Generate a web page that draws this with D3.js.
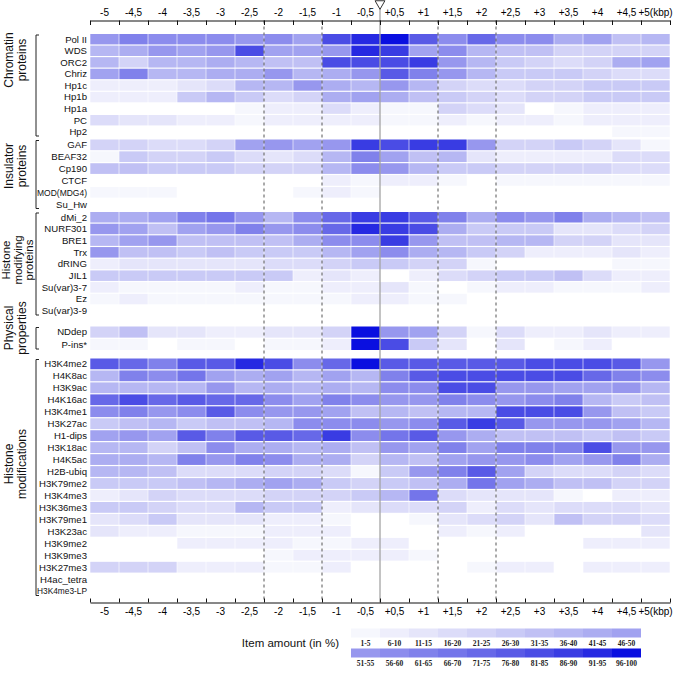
<!DOCTYPE html>
<html>
<head>
<meta charset="utf-8">
<script src="https://cdn.jsdelivr.net/npm/d3@7"></script>
<style>
  body { margin: 0; background: #fff; }
  svg { display: block; font-family: "Liberation Sans", Arial, sans-serif; }
</style>
</head>
<body>
<svg id="heatmap" width="685" height="673"></svg>
<script>
// Column labels (kbp bins around the site)
var colLabels = ["-5", "-4,5", "-4", "-3,5", "-3", "-2,5", "-2", "-1,5", "-1", "-0,5",
  "+0,5", "+1", "+1,5", "+2", "+2,5", "+3", "+3,5", "+4", "+4,5", "+5(kbp)"];

// Row names per group
var chromatinRows = ["Pol II", "WDS", "ORC2", "Chriz", "Hp1c", "Hp1b", "Hp1a", "PC", "Hp2"];
var insulatorRows = ["GAF", "BEAF32", "Cp190", "CTCF", "MOD(MDG4)", "Su_Hw"];
var modifyingRows = ["dMi_2", "NURF301", "BRE1", "Trx", "dRING", "JIL1", "Su(var)3-7", "Ez", "Su(var)3-9"];
var physicalRows = ["NDdep", "P-ins*"];
var modificationRows = ["H3K4me2", "H4K8ac", "H3K9ac", "H4K16ac", "H3K4me1", "H3K27ac", "H1-dips",
  "H3K18ac", "H4K5ac", "H2B-ubiq", "H3K79me2", "H3K4me3", "H3K36me3", "H3K79me1", "H3K23ac",
  "H3K9me2", "H3K9me3", "H3K27me3", "H4ac_tetra", "H3K4me3-LP"];

// Item amount (%) per cell
var chromatinValues = [
  [55, 65, 60, 60, 60, 55, 60, 50, 85, 95, 100, 80, 60, 75, 60, 60, 45, 50, 35, 40],
  [40, 45, 55, 50, 55, 85, 50, 50, 55, 95, 90, 50, 60, 40, 35, 35, 25, 25, 25, 25],
  [40, 25, 40, 40, 45, 40, 35, 35, 85, 85, 85, 90, 55, 40, 30, 25, 20, 25, 45, 50],
  [50, 65, 40, 40, 45, 45, 55, 40, 45, 55, 80, 65, 55, 40, 30, 30, 30, 25, 20, 20],
  [10, 10, 10, 15, 20, 40, 40, 55, 45, 40, 55, 40, 25, 20, 20, 25, 25, 30, 30, 30],
  [10, 10, 10, 30, 40, 30, 20, 25, 45, 50, 45, 35, 30, 25, 20, 25, 25, 30, 30, 30],
  [0, 0, 0, 0, 0, 5, 10, 10, 20, 10, 5, 5, 25, 20, 15, 0, 5, 10, 10, 10],
  [20, 15, 15, 10, 10, 5, 10, 10, 10, 10, 5, 5, 10, 5, 10, 10, 5, 10, 10, 10],
  [0, 0, 0, 0, 0, 0, 0, 0, 0, 0, 0, 0, 0, 0, 0, 0, 0, 0, 5, 5]
];
var insulatorValues = [
  [25, 25, 20, 20, 25, 50, 55, 50, 55, 90, 85, 90, 90, 55, 25, 25, 30, 25, 15, 5],
  [5, 30, 25, 25, 30, 20, 15, 20, 40, 65, 50, 35, 40, 15, 10, 10, 10, 10, 20, 20],
  [35, 35, 30, 30, 30, 25, 25, 25, 40, 60, 55, 40, 30, 30, 25, 25, 25, 25, 20, 20],
  [0, 0, 0, 0, 0, 0, 0, 0, 10, 5, 10, 10, 5, 0, 5, 5, 5, 5, 5, 5],
  [5, 5, 5, 0, 0, 0, 0, 5, 10, 5, 0, 0, 0, 0, 0, 0, 0, 0, 0, 0],
  [0, 0, 0, 0, 0, 0, 0, 0, 0, 0, 0, 0, 0, 0, 0, 0, 0, 0, 0, 0]
];
var modifyingValues = [
  [45, 45, 50, 65, 70, 55, 40, 60, 75, 90, 90, 80, 65, 45, 60, 55, 65, 45, 40, 35],
  [55, 50, 35, 50, 55, 65, 55, 60, 75, 95, 90, 85, 45, 30, 30, 30, 15, 15, 20, 25],
  [40, 50, 55, 35, 35, 35, 35, 45, 60, 60, 90, 55, 35, 35, 40, 40, 25, 25, 15, 15],
  [55, 35, 35, 30, 35, 30, 30, 30, 40, 50, 60, 45, 40, 30, 25, 10, 10, 10, 15, 10],
  [10, 15, 15, 15, 15, 15, 20, 20, 25, 30, 30, 25, 25, 5, 0, 0, 0, 0, 5, 5],
  [30, 30, 30, 30, 30, 30, 30, 10, 15, 10, 0, 10, 20, 25, 30, 30, 35, 20, 10, 10],
  [10, 5, 5, 5, 5, 10, 5, 5, 10, 10, 15, 5, 0, 5, 10, 10, 5, 5, 5, 10],
  [5, 10, 5, 5, 5, 5, 5, 5, 5, 10, 10, 5, 5, 0, 0, 0, 0, 0, 0, 0],
  [0, 0, 0, 0, 0, 0, 0, 0, 0, 0, 0, 0, 0, 0, 0, 0, 0, 0, 0, 0]
];
var physicalValues = [
  [25, 35, 15, 15, 10, 10, 15, 15, 25, 100, 55, 50, 25, 5, 20, 10, 10, 15, 10, 10],
  [5, 5, 0, 5, 5, 0, 5, 5, 10, 100, 85, 30, 15, 0, 15, 0, 5, 10, 0, 0]
];
var modificationValues = [
  [80, 75, 65, 80, 80, 95, 85, 60, 75, 100, 80, 80, 80, 80, 80, 85, 85, 85, 80, 55],
  [40, 65, 60, 70, 50, 45, 50, 40, 50, 40, 65, 80, 85, 85, 85, 85, 85, 75, 65, 60],
  [40, 40, 40, 40, 55, 40, 45, 40, 45, 40, 60, 60, 85, 85, 55, 55, 50, 50, 55, 40],
  [75, 85, 75, 80, 75, 75, 60, 50, 65, 60, 55, 55, 65, 60, 55, 60, 65, 40, 30, 35],
  [60, 65, 55, 60, 80, 60, 55, 55, 50, 35, 40, 35, 40, 40, 85, 85, 85, 55, 35, 30],
  [30, 35, 40, 30, 35, 35, 40, 60, 60, 60, 55, 60, 80, 90, 80, 55, 55, 55, 50, 40],
  [50, 55, 50, 80, 65, 80, 80, 75, 90, 60, 70, 80, 55, 45, 35, 35, 35, 30, 35, 30],
  [40, 40, 25, 35, 60, 45, 45, 40, 45, 35, 55, 50, 65, 50, 65, 65, 65, 85, 55, 55],
  [45, 45, 40, 65, 55, 65, 60, 45, 45, 25, 40, 35, 50, 55, 55, 60, 50, 55, 65, 45],
  [40, 40, 35, 20, 20, 20, 25, 25, 20, 5, 30, 55, 65, 80, 50, 25, 20, 20, 25, 20],
  [30, 30, 30, 35, 40, 45, 50, 45, 30, 25, 30, 35, 45, 70, 50, 45, 35, 35, 25, 25],
  [10, 15, 25, 20, 20, 20, 25, 25, 25, 30, 40, 70, 20, 15, 15, 15, 5, 0, 10, 10],
  [30, 30, 25, 20, 20, 40, 30, 30, 10, 15, 20, 20, 25, 10, 20, 15, 20, 20, 20, 15],
  [15, 20, 30, 15, 15, 15, 10, 10, 5, 0, 0, 5, 15, 20, 25, 15, 35, 25, 25, 20],
  [15, 10, 10, 5, 5, 5, 10, 10, 10, 0, 0, 0, 10, 5, 10, 0, 0, 0, 0, 15],
  [0, 0, 0, 10, 10, 10, 10, 5, 5, 10, 10, 0, 0, 0, 0, 0, 0, 10, 10, 10],
  [0, 0, 0, 0, 0, 0, 5, 10, 10, 10, 10, 5, 0, 0, 0, 0, 0, 0, 0, 0],
  [25, 25, 25, 10, 10, 10, 5, 5, 10, 0, 0, 0, 0, 5, 10, 10, 0, 10, 10, 10],
  [0, 0, 0, 0, 0, 0, 0, 0, 0, 0, 0, 0, 0, 0, 0, 0, 0, 0, 0, 0],
  [0, 0, 0, 0, 0, 0, 0, 0, 0, 0, 0, 0, 0, 0, 0, 0, 0, 0, 0, 0]
];

// Group titles
var groupTitles = [
  ["Chromatin", "proteins"],
  ["Insulator", "proteins"],
  ["Histone", "modifying", "proteins"],
  ["Physical", "properties"],
  ["Histone", "modifications"]
];

// Legend labels
var legendLow = ["1-5", "6-10", "11-15", "16-20", "21-25", "26-30", "31-35", "36-40", "41-45", "46-50"];
var legendHigh = ["51-55", "56-60", "61-65", "66-70", "71-75", "76-80", "81-85", "86-90", "91-95", "96-100"];

// Layout
var svg = d3.select("#heatmap");
var left = 90, right = 670, topAxisY = 20.5, bottomAxisY = 602.5;
var groupRanges = [[34, 137], [139.5, 209.5], [212, 316], [326.5, 350], [358.5, 596.5]];
var titleCenters = [60, 166, 260, 328, 464];

var groups = [
  { rows: chromatinRows, values: chromatinValues },
  { rows: insulatorRows, values: insulatorValues },
  { rows: modifyingRows, values: modifyingValues },
  { rows: physicalRows, values: physicalValues },
  { rows: modificationRows, values: modificationValues }
];

// Scales
var xBand = d3.scaleBand().domain(colLabels).range([left, right]);
var xTick = d3.scaleLinear().domain([0, 20]).range([left, right]);

var colorBins = d3.range(1, 21).map(k => d3.interpolateRgb.gamma(1.5)("#ffffff", "#0a0fe0")(k / 20));
var color = d3.scaleThreshold().domain(d3.range(5.5, 100, 5)).range(colorBins);

var cellGroup = svg.append("g");

groups.forEach(function(g, gi) {
  var yBand = d3.scaleBand().domain(g.rows).range(groupRanges[gi]).paddingInner(0.1);

  g.rows.forEach(function(name, ri) {
    var cells = g.values[ri].map((v, ci) => ({ col: colLabels[ci], v: v })).filter(d => d.v > 0);

    cellGroup.selectAll(null)
      .data(cells)
      .enter()
      .append("rect")
      .attr("x", d => xBand(d.col) + 0.3)
      .attr("width", xBand.bandwidth() - 0.6)
      .attr("y", yBand(name))
      .attr("height", yBand.bandwidth())
      .attr("fill", d => color(d.v));

    var label = svg.append("text")
      .attr("x", 87)
      .attr("y", yBand(name) + yBand.bandwidth() / 2)
      .attr("dy", "0.35em")
      .attr("text-anchor", "end")
      .attr("font-size", 9.6)
      .attr("fill", "#111")
      .text(name);
    // squeeze the long names so they stay right of the bracket
    if (label.node().getComputedTextLength() > 50) {
      label.attr("textLength", 50).attr("lengthAdjust", "spacingAndGlyphs");
    }
  });

  // bracket
  var r = groupRanges[gi];
  svg.append("path")
    .attr("d", `M39,${r[0] + 1}H36V${r[1] - 1}H39`)
    .attr("fill", "none")
    .attr("stroke", "#222")
    .attr("stroke-width", 1);

  // rotated group title
  var lines = groupTitles[gi];
  var step = lines.length === 3 ? 11.5 : 12.5;
  var x0 = lines.length === 3 ? 6 : 9;
  lines.forEach(function(line, li) {
    svg.append("text")
      .attr("transform", `translate(${x0 + li * step},${titleCenters[gi]}) rotate(-90)`)
      .attr("text-anchor", "middle")
      .attr("dy", "0.35em")
      .attr("font-size", lines.length === 3 ? 11.5 : 12)
      .attr("fill", "#111")
      .text(line);
  });
});

// Reference lines
[6, 8, 12, 14].forEach(function(t) {
  svg.append("line")
    .attr("x1", xTick(t)).attr("x2", xTick(t))
    .attr("y1", topAxisY).attr("y2", bottomAxisY)
    .attr("stroke", "#555")
    .attr("stroke-width", 1)
    .attr("stroke-dasharray", "3,3");
});
svg.append("line")
  .attr("x1", xTick(10)).attr("x2", xTick(10))
  .attr("y1", 7).attr("y2", bottomAxisY)
  .attr("stroke", "#888")
  .attr("stroke-width", 1);

svg.append("path")
  .attr("d", d3.symbol().type(d3.symbolTriangle).size(42))
  .attr("transform", `translate(${xTick(10)},3.6) rotate(180)`)
  .attr("fill", "#fff")
  .attr("stroke", "#333")
  .attr("stroke-width", 1);

// Axes
function styleAxis(sel) {
  sel.attr("font-family", '"Liberation Sans", Arial, sans-serif').attr("font-size", 10);
  sel.selectAll("line, path").attr("stroke", "#111");
}

svg.append("g")
  .attr("transform", `translate(0,${topAxisY})`)
  .call(d3.axisTop(xTick).ticks(20).tickSizeInner(-4.5).tickSizeOuter(0).tickFormat(""))
  .call(styleAxis);
svg.append("g")
  .attr("transform", `translate(0,${topAxisY})`)
  .call(d3.axisTop(xBand).tickSize(0).tickPadding(5))
  .call(styleAxis)
  .call(g => g.select(".domain").remove());

svg.append("g")
  .attr("transform", `translate(0,${bottomAxisY})`)
  .call(d3.axisBottom(xTick).ticks(20).tickSizeInner(-4).tickSizeOuter(0).tickFormat(""))
  .call(styleAxis);
svg.append("g")
  .attr("transform", `translate(0,${bottomAxisY})`)
  .call(d3.axisBottom(xBand).tickSize(0).tickPadding(5))
  .call(styleAxis)
  .call(g => g.select(".domain").remove());

// Legend
var legendX = d3.scaleBand().domain(d3.range(10)).range([351, 641]);
var legend = svg.append("g");

legend.append("text")
  .attr("x", 339)
  .attr("y", 647)
  .attr("text-anchor", "end")
  .attr("font-size", 11.5)
  .attr("fill", "#111")
  .text("Item amount (in %)");

[[legendLow, 0, 628.5, 645.5], [legendHigh, 10, 648.5, 665.5]].forEach(function(row) {
  legend.selectAll(null)
    .data(row[0])
    .enter()
    .append("rect")
    .attr("x", (d, i) => legendX(i))
    .attr("y", row[2])
    .attr("width", legendX.bandwidth())
    .attr("height", 9)
    .attr("fill", (d, i) => colorBins[row[1] + i]);

  legend.selectAll(null)
    .data(row[0])
    .enter()
    .append("text")
    .attr("x", (d, i) => legendX(i) + legendX.bandwidth() / 2)
    .attr("y", row[3])
    .attr("text-anchor", "middle")
    .attr("font-family", '"Liberation Serif", "Times New Roman", serif')
    .attr("font-weight", "bold")
    .attr("font-size", 7.5)
    .attr("fill", "#222")
    .text(d => d);
});
</script>
</body>
</html>
